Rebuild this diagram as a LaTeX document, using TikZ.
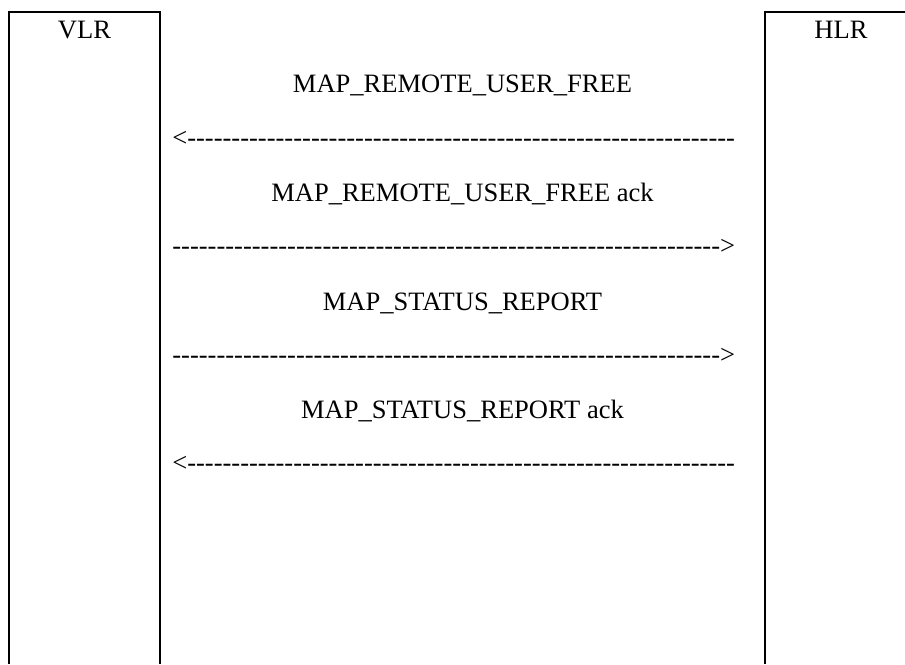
\documentclass[tikz,border=0pt]{standalone}
\usepackage{fontspec}
\setmainfont{Liberation Serif}[Ligatures=TeXOff]

\newcommand*{\midx}{462.5}
\newcommand*{\arrx}{172}
\newcommand*{\dashrun}{--------------------------------------------------------------}

\begin{document}
\begin{tikzpicture}
[
	x=0.02cm, y=-0.02cm,
	frame/.style={line width=1.5pt},
	label/.style={anchor=base,inner sep=0pt,font=\fontsize{15.1}{18}\selectfont},
	arrowtext/.style={anchor=base west,inner sep=0pt,font=\fontsize{15.1}{18}\selectfont}
]
	\useasboundingbox (0,0) rectangle (905,664);

	% columns
	\draw[frame] (9,664) -- (9,12) -- (160,12) -- (160,664);
	\draw[frame] (765,664) -- (765,12) -- (906,12);

	\node[label] (vlr) at (84.5,38.3) {VLR};
	\node[label] (hlr) at (841,38.3) {HLR};

	% messages
	\node[label] (free) at (\midx,92.3) {MAP\_REMOTE\_USER\_FREE};
	\node[arrowtext] (freearr) at (\arrx,146) {<\dashrun};

	\node[label] (freeack) at (\midx,201.5) {MAP\_REMOTE\_USER\_FREE ack};
	\node[arrowtext] (freeackarr) at (\arrx,254.5) {\dashrun>};

	\node[label] (status) at (\midx,310.5) {MAP\_STATUS\_REPORT};
	\node[arrowtext] (statusarr) at (\arrx,363) {\dashrun>};

	\node[label] (statusack) at (\midx,418.5) {MAP\_STATUS\_REPORT ack};
	\node[arrowtext] (statusackarr) at (\arrx,471) {<\dashrun};

\end{tikzpicture}
\end{document}
